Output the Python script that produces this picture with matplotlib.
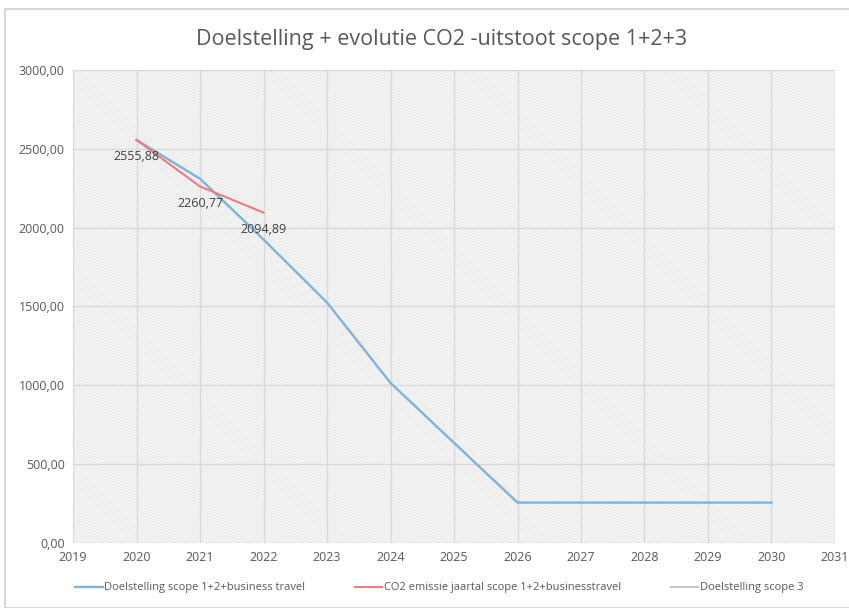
import matplotlib
matplotlib.use("Agg")
import matplotlib.pyplot as plt
from matplotlib.patches import Rectangle

plt.rcParams['font.family'] = ['Open Sans', 'DejaVu Sans']
plt.rcParams['hatch.linewidth'] = 0.7

years_target = [2020, 2021, 2022, 2023, 2024, 2025, 2026, 2027, 2028, 2029, 2030]
target_values = [2555.88, 2310, 1925, 1525, 1015, 635, 256, 256, 256, 256, 256]
years_actual = [2020, 2021, 2022]
actual_values = [2555.88, 2260.77, 2094.89]
years_scope3 = []
scope3_values = []
x_ticks = list(range(2019, 2032))
y_ticks = [0, 500, 1000, 1500, 2000, 2500, 3000]

def fmt(v):
    return f"{v:.2f}".replace('.', ',')

fig = plt.figure(figsize=(8.49, 6.08), dpi=100)
fig.patches.append(Rectangle((0.006, 0.0), 1.0, 0.985, transform=fig.transFigure,
                             facecolor='none', edgecolor='#d0d0d0', linewidth=1.2))
ax = fig.add_axes([0.086, 0.107, 0.8975, 0.778])
ax.add_patch(Rectangle((0, 0), 1, 1, transform=ax.transAxes, facecolor='white',
                       edgecolor='#e2e2e2', hatch='\\' * 12, linewidth=0, zorder=0))
ax.set_xlim(2019, 2031)
ax.set_ylim(0, 3000)
ax.set_xticks(x_ticks)
ax.set_xticklabels([str(x) for x in x_ticks])
ax.set_yticks(y_ticks)
ax.set_yticklabels([fmt(v) for v in y_ticks])
ax.grid(True, color='#d9d9d9', linewidth=1.0, zorder=1)
ax.set_axisbelow(False)
for s in ax.spines.values():
    s.set_visible(False)
ax.tick_params(length=0, labelsize=9, colors='#595959', pad=6)

l1, = ax.plot(years_target, target_values, color='#7fb2dc', linewidth=1.7, zorder=3,
              label='Doelstelling scope 1+2+business travel')
l2, = ax.plot(years_actual, actual_values, color='#f07a7c', linewidth=1.5, zorder=4,
              label='CO2 emissie jaartal scope 1+2+businesstravel')
l3, = ax.plot(years_scope3, scope3_values, color='#c8c8c8', linewidth=1.5,
              label='Doelstelling scope 3')
for x, y in zip(years_actual, actual_values):
    ax.annotate(fmt(y), (x, y), xytext=(0, -12), textcoords='offset points',
                ha='center', va='center', fontsize=9, color='#404040', zorder=5)

fig.text(0.52, 0.935, 'Doelstelling + evolutie CO2 -uitstoot scope 1+2+3',
         ha='center', va='center', fontsize=15.5, color='#595959')
fig.legend(handles=[l1, l2, l3], loc='center', bbox_to_anchor=(0.517, 0.033), ncol=3,
           frameon=False, fontsize=8, labelcolor='#595959', handlelength=2.5,
           handletextpad=0.1, columnspacing=4.5)
fig.savefig('out.png', dpi=100)
